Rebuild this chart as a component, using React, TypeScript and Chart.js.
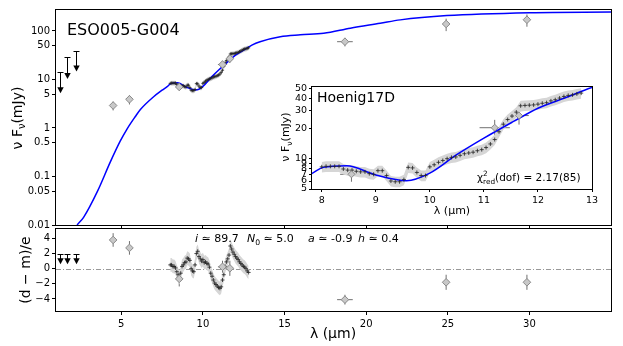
import React, { useEffect, useRef } from "react";
import { Chart, registerables } from "chart.js";
Chart.register(...registerables);

const FONT = "'DejaVu Sans', 'Liberation Sans', sans-serif";
Chart.defaults.font.family = FONT;

// ---------------- data ----------------
const title = "ESO005-G004";
const insetTitle = "Hoenig17D";

// model SED (blue curve)
const modelX = [2.29, 2.69, 3.53, 4.33, 4.94, 5.35, 5.86, 6.17, 6.98, 7.5, 7.83, 8.03, 8.46, 9.0, 9.57, 10.0, 10.49, 11.0, 11.54, 12.0, 12.53, 13.0, 13.5, 14.74, 15.97, 17.4, 19.03, 20.86, 22.09, 24.95, 30.05, 35.0];
const modelY = [0.01, 0.0144, 0.0487, 0.2, 0.54, 0.95, 1.72, 2.4, 4.4, 6.0, 7.2, 8.2, 8.5, 6.9, 6.05, 7.2, 10.9, 16.0, 23.3, 31.7, 40.7, 51, 60, 76, 83, 89.5, 114, 144, 169, 207, 238, 245];

// mid-IR spectrum (mJy) and its residuals
const specX = [8.00, 8.08, 8.16, 8.24, 8.32, 8.40, 8.48, 8.56, 8.64, 8.72, 8.80, 8.88, 8.96, 9.04, 9.12, 9.20, 9.28, 9.36, 9.44, 9.52, 9.60, 9.68, 9.76, 9.84, 9.92, 10.00, 10.08, 10.16, 10.24, 10.32, 10.40, 10.48, 10.56, 10.64, 10.72, 10.80, 10.88, 10.96, 11.04, 11.12, 11.20, 11.28, 11.36, 11.44, 11.52, 11.60, 11.68, 11.76, 11.84, 11.92, 12.00, 12.08, 12.16, 12.24, 12.32, 12.40, 12.48, 12.56, 12.64, 12.72, 12.80];
const specY = [8.3, 8.4, 8.4, 8.4, 8.4, 7.9, 7.7, 7.7, 7.5, 7.4, 7.4, 7.1, 7.0, 7.6, 7.6, 6.8, 6.0, 5.9, 5.9, 6.2, 8.2, 8.1, 7.3, 6.8, 6.8, 8.3, 8.7, 9.2, 9.6, 10.0, 10.3, 10.4, 10.8, 11.2, 11.4, 11.6, 12.0, 12.3, 12.9, 14.0, 15.5, 18.5, 22.0, 24.5, 26.5, 29.0, 33.5, 33.8, 34.0, 34.2, 34.8, 35.5, 36.0, 37.5, 38.5, 40.0, 41.5, 42.5, 43.0, 44.0, 44.8];
const specRes = [0.5, 0.5, 0.3, 0.3, 0.1, -0.4, -0.8, -1.2, -0.6, 0.3, 0.5, 0.8, 0.9, 1.4, 1.3, 1.1, 0.0, -0.3, -0.4, 0.5, 2.0, 2.3, 1.6, 1.3, 1.0, 1.2, 0.8, 0.9, 0.7, 0.6, 0.2, -0.6, -1.0, -1.5, -1.9, -2.1, -2.3, -2.5, -2.6, -2.4, -1.5, -0.8, 0.3, 0.9, 1.3, 1.8, 3.0, 2.6, 2.2, 1.9, 1.6, 1.4, 1.2, 0.9, 0.7, 0.5, 0.3, 0.2, 0.0, -0.3, -0.5];
const SPEC_REL_ERR = 0.12;
const RES_BAND = 0.9;

// photometry
const photX = [4.5, 5.5, 8.55, 11.2, 11.65, 18.7, 24.9, 29.85];
const photY = [2.9, 3.9, 7.0, 20.3, 26.8, 60, 139, 170];
const photXErr = [0, 0, 0.21, 0.28, 0.18, 0.48, 0, 0];
const photYErr = [0.6, 0.85, 1.1, 4.0, 5.0, 12, 40, 48];
const photRes = [3.8, 2.75, -1.35, 0.25, 0.05, -4.1, -1.8, -1.8];
const photResErr = [0.9, 0.9, 1.0, 0.8, 1.0, 0.65, 1.0, 1.0];

// upper limits
const ulX = [1.25, 1.65, 2.2];
const ulTop = [14.5, 28.7, 39.3];
const ulTip = [5.2, 10.2, 14.5];
const ulResTop = [2.0, 2.0, 2.0];
const ulResTip = [0.6, 0.6, 0.6];

// ticks
const xTicks = [5, 10, 15, 20, 25, 30];
const mainYTicks = [0.01, 0.05, 0.1, 0.5, 1, 5, 10, 50, 100];
const resYTicks = [-4, -2, 0, 2, 4];
const insetXTicks = [8, 9, 10, 11, 12, 13];
const insetYTicks = [5, 6, 7, 8, 9, 10, 20, 30, 40, 50];

// ---------------- helpers ----------------
const W = 623, H = 346;

type Part = { t: string; s?: number; dy?: number; it?: boolean; noAdv?: boolean };
function rich(ctx: CanvasRenderingContext2D, parts: Part[], x: number, y: number, base: number, align: "left" | "center" | "right", rot = 0) {
  ctx.save();
  ctx.translate(x, y);
  ctx.rotate(rot);
  ctx.textBaseline = "alphabetic";
  ctx.textAlign = "left";
  ctx.fillStyle = "#000";
  const fontOf = (p: Part) => `${p.it ? "italic " : ""}${(p.s ?? 1) * base}px ${FONT}`;
  let w = 0;
  parts.forEach((p) => {
    ctx.font = fontOf(p);
    if (!p.noAdv) w += ctx.measureText(p.t).width;
  });
  let cx = align === "left" ? 0 : align === "center" ? -w / 2 : -w;
  parts.forEach((p) => {
    ctx.font = fontOf(p);
    ctx.fillText(p.t, cx, (p.dy ?? 0) * base);
    if (!p.noAdv) cx += ctx.measureText(p.t).width;
  });
  ctx.restore();
}

const fitFixed = (size: number, horizontal: boolean) => (scale: any) => {
  if (horizontal) scale.height = size;
  else scale.width = size;
  scale.paddingLeft = 0;
  scale.paddingRight = 0;
  scale.paddingTop = 0;
  scale.paddingBottom = 0;
};
const fixedTicks = (vals: number[]) => (scale: any) => {
  scale.ticks = vals.map((v) => ({ value: v }));
};
const fmt = (v: number) => (v < 0 ? "\u2212" + Math.abs(v) : String(v));

const gridCfg = (len: number) => ({
  display: true,
  drawOnChartArea: false,
  drawTicks: true,
  tickLength: len,
  tickColor: "#000",
  tickWidth: 1,
});

const framePlugin = {
  id: "frame",
  afterDatasetsDraw(chart: any) {
    const { ctx, chartArea: a } = chart;
    ctx.save();
    ctx.strokeStyle = "#000";
    ctx.lineWidth = 1;
    ctx.strokeRect(a.left - 0.5, a.top - 0.5, a.right - a.left + 1, a.bottom - a.top + 1);
    ctx.restore();
  },
};

const errorBarPlugin = {
  id: "errbars",
  beforeDatasetsDraw(chart: any) {
    const { ctx, chartArea: a } = chart;
    const sx = chart.scales.x, sy = chart.scales.y;
    ctx.save();
    ctx.beginPath();
    ctx.rect(a.left, a.top, a.right - a.left, a.bottom - a.top);
    ctx.clip();
    chart.data.datasets.forEach((ds: any) => {
      if (!ds.errX && !ds.errY) return;
      ctx.strokeStyle = "#707070";
      ctx.lineWidth = 1;
      ds.data.forEach((p: any, i: number) => {
        const px = sx.getPixelForValue(p.x), py = sy.getPixelForValue(p.y);
        const ex = ds.errX ? ds.errX[i] : 0, ey = ds.errY ? ds.errY[i] : 0;
        ctx.beginPath();
        if (ex) {
          ctx.moveTo(sx.getPixelForValue(p.x - ex), py);
          ctx.lineTo(sx.getPixelForValue(p.x + ex), py);
        }
        if (ey) {
          ctx.moveTo(px, sy.getPixelForValue(p.y - ey));
          ctx.lineTo(px, sy.getPixelForValue(p.y + ey));
        }
        ctx.stroke();
      });
    });
    ctx.restore();
  },
};

function upLimPlugin(xs: number[], tops: number[], tips: number[]) {
  return {
    id: "uplims",
    afterDatasetsDraw(chart: any) {
      const { ctx } = chart;
      const sx = chart.scales.x, sy = chart.scales.y;
      ctx.save();
      ctx.strokeStyle = "#000";
      ctx.fillStyle = "#000";
      ctx.lineWidth = 1;
      xs.forEach((xv, i) => {
        const px = Math.round(sx.getPixelForValue(xv)) + 0.5;
        const pt = Math.round(sy.getPixelForValue(tops[i])) + 0.5;
        const pb = sy.getPixelForValue(tips[i]);
        ctx.beginPath();
        ctx.moveTo(px, pt);
        ctx.lineTo(px, pb - 5);
        ctx.moveTo(px - 3, pt);
        ctx.lineTo(px + 3, pt);
        ctx.stroke();
        ctx.beginPath();
        ctx.moveTo(px - 3.2, pb - 6);
        ctx.lineTo(px + 3.2, pb - 6);
        ctx.lineTo(px, pb);
        ctx.closePath();
        ctx.fill();
      });
      ctx.restore();
    },
  };
}

function textPlugin(fn: (ctx: CanvasRenderingContext2D, chart: any) => void) {
  return { id: "texts", afterDraw(chart: any) { fn(chart.ctx, chart); } };
}

const whiteAreaPlugin = {
  id: "whiteArea",
  beforeDraw(chart: any) {
    const { ctx, chartArea: a } = chart;
    ctx.save();
    ctx.fillStyle = "#fff";
    ctx.fillRect(a.left, a.top, a.right - a.left, a.bottom - a.top);
    ctx.restore();
  },
};

const xy = (xs: number[], ys: number[]) => xs.map((x, i) => ({ x, y: ys[i] }));
const tickFont = (size: number) => ({ family: FONT, size });

function photDataset(ys: number[], yerr: number[], radius: number) {
  return {
    type: "line",
    data: xy(photX, ys),
    showLine: false,
    pointStyle: "rectRot",
    pointRadius: radius,
    pointBackgroundColor: "#c8c8c8",
    pointBorderColor: "#8a8a8a",
    pointBorderWidth: 1,
    errX: photXErr,
    errY: yerr,
  };
}
function specPoints(ys: number[], radius: number) {
  return {
    type: "line",
    data: xy(specX, ys),
    showLine: false,
    pointStyle: "cross",
    pointRadius: radius,
    pointBorderColor: "#222",
    pointBorderWidth: 0.8,
  };
}
function bandUp(ys: number[]) {
  return { type: "line", data: xy(specX, ys), pointRadius: 0, borderWidth: 0, borderColor: "rgba(0,0,0,0)", backgroundColor: "#d6d6d6", fill: "+1" };
}
function bandLo(ys: number[]) {
  return { type: "line", data: xy(specX, ys), pointRadius: 0, borderWidth: 0, borderColor: "rgba(0,0,0,0)", fill: false };
}
const modelDataset = {
  type: "line",
  data: xy(modelX, modelY),
  pointRadius: 0,
  borderColor: "#0000ff",
  borderWidth: 1.5,
  cubicInterpolationMode: "monotone",
  fill: false,
};

const specUp = specY.map((v) => v * (1 + SPEC_REL_ERR));
const specLo = specY.map((v) => v * (1 - SPEC_REL_ERR));
const resUp = specRes.map((v) => v + RES_BAND);
const resLo = specRes.map((v) => v - RES_BAND);

function baseOpts(pad: any) {
  return {
    animation: false,
    responsive: false,
    maintainAspectRatio: false,
    events: [],
    layout: { padding: pad },
    plugins: { legend: { display: false }, tooltip: { enabled: false }, title: { display: false } },
  };
}

const nuFnu = (): Part[] => [
  { t: "\u03bd F" },
  { t: "\u03bd", s: 0.7, dy: 0.25 },
  { t: "(mJy)" },
];

export default function App() {
  const mainRef = useRef<HTMLCanvasElement>(null);
  const resRef = useRef<HTMLCanvasElement>(null);
  const insRef = useRef<HTMLCanvasElement>(null);

  useEffect(() => {
    const charts: Chart[] = [];

    // ---- main SED panel ----
    charts.push(
      new Chart(mainRef.current!, {
        type: "line",
        data: {
          datasets: [
            photDataset(photY, photYErr, 3.8),
            specPoints(specY, 1.6),
            modelDataset,
            bandUp(specUp),
            bandLo(specLo),
          ] as any,
        },
        options: {
          ...baseOpts({ top: 10, left: 0, right: 12, bottom: 0 }),
          scales: {
            x: {
              type: "linear", min: 1, max: 35, position: "bottom",
              afterBuildTicks: fixedTicks(xTicks), afterFit: fitFixed(121, true),
              grid: gridCfg(4), border: { display: false },
              ticks: { callback: () => "", font: tickFont(10), color: "#000", padding: 3, maxRotation: 0, minRotation: 0, autoSkip: false },
            },
            y: {
              type: "logarithmic", min: 0.01, max: 270, position: "left",
              afterBuildTicks: fixedTicks(mainYTicks), afterFit: fitFixed(56, false),
              grid: gridCfg(4), border: { display: false },
              ticks: { callback: (v: any) => fmt(Number(v)), font: tickFont(10), color: "#000", padding: 2, autoSkip: false },
            },
          },
        } as any,
        plugins: [
          errorBarPlugin,
          framePlugin,
          upLimPlugin(ulX, ulTop, ulTip),
          textPlugin((ctx) => {
            rich(ctx, [{ t: title }], 67, 35, 16, "left");
            rich(ctx, nuFnu(), 21.5, 118, 14, "center", -Math.PI / 2);
          }),
        ] as any,
      })
    );

    // ---- residual panel ----
    charts.push(
      new Chart(resRef.current!, {
        type: "line",
        data: {
          datasets: [
            photDataset(photRes, photResErr, 3.8),
            specPoints(specRes, 2),
            bandUp(resUp),
            bandLo(resLo),
          ] as any,
        },
        options: {
          ...baseOpts({ top: 229, left: 0, right: 12, bottom: 0 }),
          scales: {
            x: {
              type: "linear", min: 1, max: 35, position: "bottom",
              afterBuildTicks: fixedTicks(xTicks), afterFit: fitFixed(35, true),
              grid: gridCfg(4), border: { display: false },
              ticks: { callback: (v: any) => fmt(Number(v)), font: tickFont(10), color: "#000", padding: 3, maxRotation: 0, minRotation: 0, autoSkip: false },
            },
            y: {
              type: "linear", min: -5.6, max: 5.25, position: "left",
              afterBuildTicks: fixedTicks(resYTicks), afterFit: fitFixed(56, false),
              grid: gridCfg(4), border: { display: false },
              ticks: { callback: (v: any) => fmt(Number(v)), font: tickFont(10), color: "#000", padding: 2, autoSkip: false },
            },
          },
        } as any,
        plugins: [
          {
            id: "zeroLine",
            beforeDatasetsDraw(chart: any) {
              const { ctx, chartArea: a } = chart;
              const py = Math.round(chart.scales.y.getPixelForValue(0)) + 0.5;
              ctx.save();
              ctx.strokeStyle = "#999";
              ctx.lineWidth = 1;
              ctx.setLineDash([5, 2, 1, 2]);
              ctx.beginPath();
              ctx.moveTo(a.left, py);
              ctx.lineTo(a.right, py);
              ctx.stroke();
              ctx.restore();
            },
          },
          errorBarPlugin,
          framePlugin,
          upLimPlugin(ulX, ulResTop, ulResTip),
          textPlugin((ctx) => {
            rich(ctx, [{ t: "(d \u2212 m)/e" }], 29.5, 270, 14, "center", -Math.PI / 2);
            rich(ctx, [{ t: "\u03bb (\u03bcm)" }], 333, 338, 14, "center");
            rich(ctx, [{ t: "i", it: true }, { t: " \u2243 89.7" }], 195, 242, 11, "left");
            rich(ctx, [{ t: "N", it: true }, { t: "0", s: 0.7, dy: 0.25 }, { t: " \u2243 5.0" }], 247, 242, 11, "left");
            rich(ctx, [{ t: "a", it: true }, { t: " \u2243 -0.9" }], 308, 242, 11, "left");
            rich(ctx, [{ t: "h", it: true }, { t: " \u2243 0.4" }], 358, 242, 11, "left");
          }),
        ] as any,
      })
    );

    // ---- inset ----
    charts.push(
      new Chart(insRef.current!, {
        type: "line",
        data: {
          datasets: [
            photDataset(photY, photYErr, 3.5),
            specPoints(specY, 2),
            modelDataset,
            bandUp(specUp),
            bandLo(specLo),
          ] as any,
        },
        options: {
          ...baseOpts({ top: 87, left: 0, right: 31, bottom: 0 }),
          scales: {
            x: {
              type: "linear", min: 7.82, max: 13, position: "bottom",
              afterBuildTicks: fixedTicks(insetXTicks), afterFit: fitFixed(157, true),
              grid: gridCfg(3), border: { display: false },
              ticks: { callback: (v: any) => fmt(Number(v)), font: tickFont(9.5), color: "#000", padding: 3, maxRotation: 0, minRotation: 0, autoSkip: false },
            },
            y: {
              type: "logarithmic", min: 5, max: 51.5, position: "left",
              afterBuildTicks: fixedTicks(insetYTicks), afterFit: fitFixed(312, false),
              grid: gridCfg(3), border: { display: false },
              ticks: { callback: (v: any) => fmt(Number(v)), font: tickFont(9.5), color: "#000", padding: 2, autoSkip: false },
            },
          },
        } as any,
        plugins: [
          whiteAreaPlugin,
          errorBarPlugin,
          framePlugin,
          textPlugin((ctx) => {
            rich(ctx, [{ t: insetTitle }], 317, 101.5, 14, "left");
            rich(
              ctx,
              [
                { t: "\u03c7" },
                { t: "2", s: 0.7, dy: -0.45, noAdv: true },
                { t: "red", s: 0.7, dy: 0.3 },
                { t: "(dof) = 2.17(85)" },
              ],
              477, 181, 10.5, "left"
            );
            rich(ctx, nuFnu(), 289, 137, 11, "center", -Math.PI / 2);
            rich(ctx, [{ t: "\u03bb (\u03bcm)" }], 452, 214, 11, "center");
          }),
        ] as any,
      })
    );

    return () => charts.forEach((c) => c.destroy());
  }, []);

  const cs: React.CSSProperties = { position: "absolute", left: 0, top: 0 };
  return (
    <div style={{ position: "fixed", left: 0, top: 0, width: W, height: H, background: "#fff" }}>
      <canvas ref={mainRef} width={W} height={H} style={cs} />
      <canvas ref={resRef} width={W} height={H} style={cs} />
      <canvas ref={insRef} width={W} height={H} style={cs} />
    </div>
  );
}
